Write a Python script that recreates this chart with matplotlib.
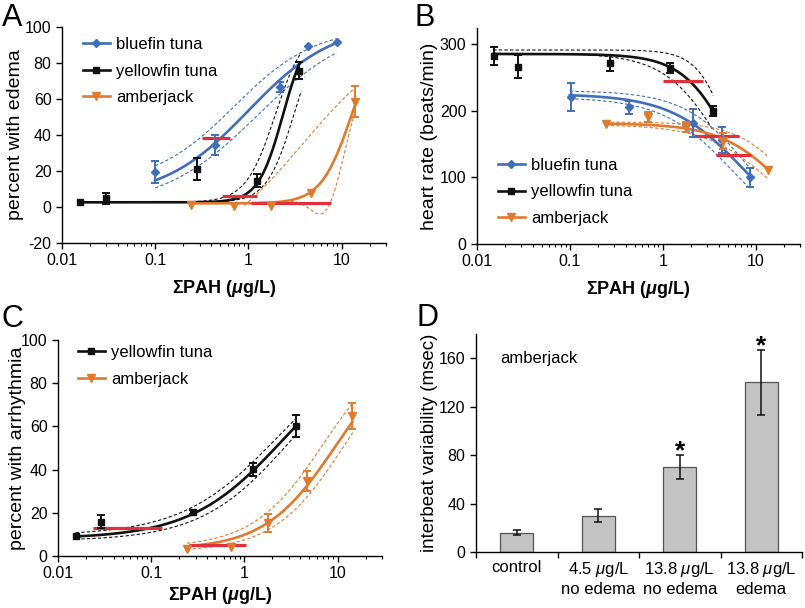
import numpy as np
import matplotlib
matplotlib.use("Agg")
import matplotlib.pyplot as plt
from matplotlib.lines import Line2D
from matplotlib.ticker import FixedLocator, FuncFormatter, LogLocator, NullFormatter

plt.rcParams['font.family'] = ['Liberation Sans', 'DejaVu Sans']
plt.rcParams['axes.unicode_minus'] = False
plt.rcParams['mathtext.fontset'] = 'custom'
plt.rcParams['mathtext.rm'] = 'Liberation Sans'
plt.rcParams['mathtext.it'] = 'Liberation Sans:italic'
plt.rcParams['mathtext.bf'] = 'Liberation Sans:bold'
plt.rcParams['mathtext.bfit'] = 'Liberation Sans:italic:bold'

BLUE = '#3f6fba'
BLACK = '#111111'
ORANGE = '#e07b2e'
RED = '#e0303c'

# ---- panel A : percent with edema
bf_conc_a = [0.10, 0.44, 2.2, 4.4, 8.9]
bf_edema = [19.4, 34.6, 66.7, 89.3, 91.4]
bf_edema_err = [6.0, 5.5, 3.0, 0, 0]
yf_conc_a = [0.0158, 0.0296, 0.28, 1.24, 3.5]
yf_edema = [2.6, 4.8, 21.0, 14.7, 75.8]
yf_edema_err = [0, 3.0, 6.0, 3.5, 4.5]
aj_conc_a = [0.24, 0.70, 1.74, 4.7, 13.9]
aj_edema = [1.2, 0.6, 0.5, 7.6, 58.5]
aj_edema_err = [0, 0, 0, 0, 8.5]

# fitted curves: bottom, top, log EC50, hill, x from, x to (first = fit, others = 95% bands)
bf_fit_a = [(5, 102, 0.0, 0.95, 0.1, 8.9), (12, 100, -0.15, 1.0, 0.1, 8.9), (0, 102, 0.1, 0.85, 0.1, 8.9)]
yf_fit_a = [(2.6, 100, 0.372, 3.28, 0.0158, 3.56), (2.6, 100, 0.289, 2.76, 0.25, 3.7), (2.6, 100, 0.488, 3.0, 0.25, 3.7)]
aj_fit_a = [(2, 100, 1.107, 2.645, 0.24, 13.9), (-30, 100, 0.582, 0.808, 0.9, 13.9)]
aj_dip_a = (19.5, 0.85, 0.22)   # lower band of amberjack dips below zero
red_a = [(0.32, 0.635, 38.3), (0.526, 1.25, 5.9), (1.06, 7.8, 2.2)]

# ---- panel B : heart rate
bf_conc_b = [0.102, 0.434, 2.12, 4.4, 8.6]
bf_hr = [221, 205, 181, 156, 100]
bf_hr_err = [21, 10, 21, 19, 14]
yf_conc_b = [0.0151, 0.0275, 0.271, 1.205, 3.46]
yf_hr = [282, 266, 272, 264, 200]
yf_hr_err = [14, 17.5, 12, 8, 7.5]
aj_conc_b = [0.243, 0.686, 1.78, 4.42, 13.6]
aj_hr = [180, 191, 176, 154, 111]
aj_hr_err = [0, 7.5, 7.5, 12, 0]

yf_fit_b = [(0, 285, 0.765, -1.64, 0.015, 3.46), (0, 291, 0.75, -2.5, 0.015, 3.5), (0, 286, 0.665, -1.395, 0.015, 3.5)]
bf_fit_b = [(0, 225, 0.868, -1.11, 0.1, 8.6), (0, 230, 0.93, -1.25, 0.1, 8.6), (0, 220, 0.75, -1.15, 0.1, 8.6)]
aj_fit_b = [(0, 181, 1.297, -1.285, 0.24, 13.6), (0, 183, 1.4, -1.5, 0.24, 13.6), (0, 179, 1.2, -1.2, 0.24, 13.6)]
red_b = [(1.0, 2.69, 245), (2.15, 6.7, 162), (3.77, 8.9, 134)]

# ---- panel C : percent with arrhythmia
yf_conc_c = [0.0155, 0.0289, 0.28, 1.247, 3.55]
yf_arr = [9.3, 15.9, 20.4, 40.1, 60.3]
yf_arr_err = [0, 2.9, 1.0, 3.0, 5.2]
aj_conc_c = [0.243, 0.716, 1.78, 4.74, 14.4]
aj_arr = [3.1, 4.0, 15.2, 34.8, 64.8]
aj_arr_err = [0, 0, 4.2, 4.5, 6.1]

yf_fit_c = [(8, 100, 0.419, 0.87, 0.0155, 3.55), (9.5, 100, 0.35, 0.85, 0.0155, 3.6), (7, 100, 0.5, 0.9, 0.0155, 3.6)]
aj_fit_c = [(3, 100, 0.989, 1.132, 0.243, 14.4), (4, 100, 0.85, 1.15, 0.243, 14.6), (2, 100, 1.07, 1.15, 0.243, 14.6)]
red_c = [(0.0238, 0.131, 13.1), (0.254, 1.04, 5.1)]

# ---- panel D : interbeat variability, amberjack
d_groups = ['control', '4.5 $\\mathit{\\mu}$g/L\nno edema', '13.8 $\\mathit{\\mu}$g/L\nno edema',
            '13.8 $\\mathit{\\mu}$g/L\nedema']
d_values = [16, 30, 70, 140]
d_err = [2, 5.5, 10, 27]
d_signif = [False, False, True, True]

XLABEL = r'$\mathbf{\Sigma PAH\ (}\mathbfit{\mu}\mathbf{g/L)}$'


def logistic(x, bottom, top, logec, hill):
    return bottom + (top - bottom) / (1 + 10 ** ((logec - np.log10(x)) * hill))


def draw_fit(ax, fits, color):
    for i, f in enumerate(fits):
        xs = np.logspace(np.log10(f[4]), np.log10(f[5]), 300)
        ys = logistic(xs, *f[:4])
        if i == 0:
            ax.plot(xs, ys, '-', color=color, lw=1.9, zorder=3)
        else:
            ax.plot(xs, ys, '--', color=color, lw=0.8, dashes=(3, 2), zorder=2)


def draw_points(ax, x, y, err, color, marker, ms):
    e = np.array(err, dtype=float)
    e[e == 0] = np.nan
    ax.errorbar(x, y, yerr=e, fmt=marker, color=color, ms=ms, capsize=3.2,
                elinewidth=1.4, capthick=1.4, zorder=5)


def draw_red(ax, segs):
    for x0, x1, y in segs:
        ax.plot([x0, x1], [y, y], color=RED, lw=2.3, solid_capstyle='butt', zorder=4)


def style_log(ax, label_y):
    ax.set_xscale('log')
    ax.set_xlim(0.01, 30)
    ax.xaxis.set_major_locator(FixedLocator([0.01, 0.1, 1, 10]))
    ax.xaxis.set_major_formatter(FuncFormatter(lambda v, p: '%g' % v))
    ax.xaxis.set_minor_locator(LogLocator(base=10, subs=np.arange(2, 10)))
    ax.xaxis.set_minor_formatter(NullFormatter())
    ax.set_xlabel(XLABEL, fontsize=13)
    ax.xaxis.set_label_coords(0.5, label_y)


def style_common(ax):
    for s in ['top', 'right']:
        ax.spines[s].set_visible(False)
    for s in ['left', 'bottom']:
        ax.spines[s].set_linewidth(1.0)
    ax.tick_params(which='major', length=4, width=1.0, labelsize=11.5, direction='out')
    ax.tick_params(which='minor', length=2.5, width=0.8, direction='out')


def legend(ax, labels, styles, anchor):
    handles = [Line2D([], [], color=c, marker=m, ms=ms, lw=1.9) for c, m, ms in styles]
    ax.legend(handles, labels, loc='upper left', bbox_to_anchor=anchor, frameon=False,
              fontsize=12, handlelength=1.6, handletextpad=0.4, labelspacing=0.7, borderaxespad=0)


species3 = ['bluefin tuna', 'yellowfin tuna', 'amberjack']
styles3 = [(BLUE, 'D', 4.5), (BLACK, 's', 5), (ORANGE, 'v', 6)]

fig = plt.figure(figsize=(8.05, 6.08), dpi=100)

# panel A
axA = fig.add_axes([0.0770, 0.6003, 0.4025, 0.3553])
draw_fit(axA, bf_fit_a, BLUE)
draw_fit(axA, yf_fit_a, BLACK)
draw_fit(axA, aj_fit_a, ORANGE)
xs = np.logspace(np.log10(0.24), np.log10(13.9), 300)
dip = aj_dip_a[0] * np.exp(-((np.log10(xs) - aj_dip_a[1]) / aj_dip_a[2]) ** 2)
axA.plot(xs, logistic(xs, *aj_fit_a[0][:4]) - dip, '--', color=ORANGE, lw=0.8, dashes=(3, 2), zorder=2)
draw_red(axA, red_a)
draw_points(axA, bf_conc_a, bf_edema, bf_edema_err, BLUE, 'D', 4.5)
draw_points(axA, yf_conc_a, yf_edema, yf_edema_err, BLACK, 's', 5)
draw_points(axA, aj_conc_a, aj_edema, aj_edema_err, ORANGE, 'v', 6)
style_log(axA, -0.16)
axA.set_ylim(-20, 100)
axA.set_yticks([-20, 0, 20, 40, 60, 80, 100])
axA.set_ylabel('percent with edema', fontsize=14)
axA.yaxis.set_label_coords(-0.117, 0.5)
style_common(axA)
legend(axA, species3, styles3, (0.044, 0.985))

# panel B
axB = fig.add_axes([0.5925, 0.5987, 0.4012, 0.3553])
draw_fit(axB, yf_fit_b, BLACK)
draw_fit(axB, bf_fit_b, BLUE)
draw_fit(axB, aj_fit_b, ORANGE)
draw_red(axB, red_b)
draw_points(axB, yf_conc_b, yf_hr, yf_hr_err, BLACK, 's', 5)
draw_points(axB, bf_conc_b, bf_hr, bf_hr_err, BLUE, 'D', 4.5)
draw_points(axB, aj_conc_b, aj_hr, aj_hr_err, ORANGE, 'v', 6)
style_log(axB, -0.16)
axB.set_ylim(0, 324)
axB.set_yticks([0, 100, 200, 300])
axB.set_ylabel('heart rate (beats/min)', fontsize=14)
axB.yaxis.set_label_coords(-0.121, 0.5)
style_common(axB)
legend(axB, species3, styles3, (0.044, 0.43))

# panel C
axC = fig.add_axes([0.0720, 0.0855, 0.4025, 0.3553])
draw_fit(axC, yf_fit_c, BLACK)
draw_fit(axC, aj_fit_c, ORANGE)
draw_red(axC, red_c)
draw_points(axC, yf_conc_c, yf_arr, yf_arr_err, BLACK, 's', 5)
draw_points(axC, aj_conc_c, aj_arr, aj_arr_err, ORANGE, 'v', 6)
style_log(axC, -0.134)
axC.set_ylim(0, 100)
axC.set_yticks([0, 20, 40, 60, 80, 100])
axC.set_ylabel('percent with arrhythmia', fontsize=14)
axC.yaxis.set_label_coords(-0.099, 0.5)
style_common(axC)
legend(axC, species3[1:], styles3[1:], (0.041, 1.008))

# panel D
axD = fig.add_axes([0.5913, 0.0921, 0.405, 0.3586])
pos = np.arange(len(d_values))
axD.bar(pos, d_values, width=0.4, color='#c3c3c3', edgecolor='#555555', lw=0.9, zorder=2)
axD.errorbar(pos, d_values, yerr=d_err, fmt='none', ecolor=BLACK, elinewidth=1.1,
             capsize=3.2, capthick=1.1, zorder=3)
for p, v, e, s in zip(pos, d_values, d_err, d_signif):
    if s:
        axD.text(p, v + e - 2.6, '*', ha='center', va='baseline', fontsize=19, fontweight='bold')
axD.text(-0.2, 160, 'amberjack', fontsize=12, va='center')
axD.set_xlim(-0.5, 3.5)
axD.set_ylim(0, 180)
axD.set_yticks([0, 40, 80, 120, 160])
axD.set_xticks(np.arange(-0.5, 4, 1))
axD.set_xticklabels([])
axD.set_xticks(pos, minor=True)
axD.set_xticklabels(d_groups, minor=True, fontsize=12)
axD.set_ylabel('interbeat variability (msec)', fontsize=13.5)
axD.yaxis.set_label_coords(-0.117, 0.5)
style_common(axD)
axD.tick_params(axis='x', which='minor', length=0, pad=6, labelsize=12)

for letter, x, y in [('A', 0.002, 0.995), ('B', 0.515, 0.995), ('C', 0.002, 0.5), ('D', 0.517, 0.502)]:
    fig.text(x, y, letter, fontsize=22, va='top', ha='left')

fig.savefig('out.png', dpi=100)
